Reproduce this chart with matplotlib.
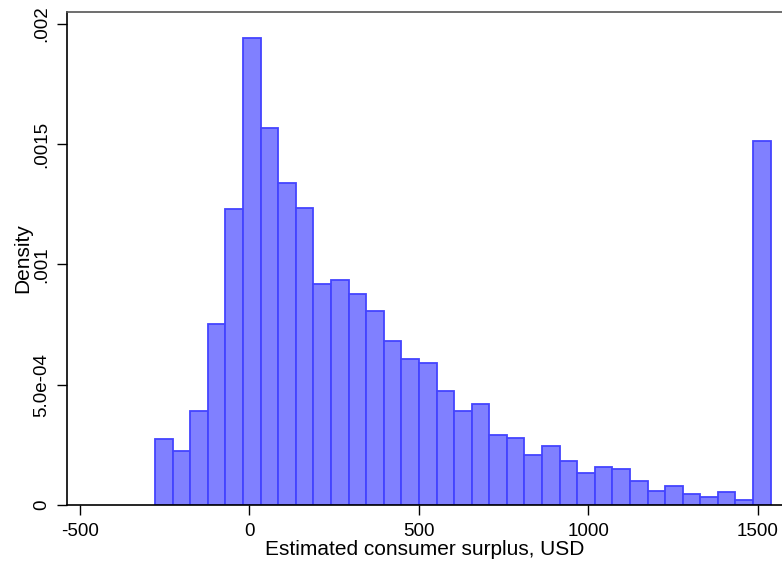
import numpy as np
import matplotlib.pyplot as plt

# histogram bins (USD) and bar densities
bin_start = -278.0
bin_width = 51.9
densities = [0.000274, 0.000225, 0.000391, 0.000754, 0.001231,
             0.001943, 0.001566, 0.001337, 0.001234, 0.000920,
             0.000936, 0.000878, 0.000808, 0.000682, 0.000607,
             0.000592, 0.000472, 0.000389, 0.000422, 0.000292,
             0.000277, 0.000209, 0.000244, 0.000181, 0.000131,
             0.000160, 0.000148, 0.000101, 0.000059, 0.000078,
             0.000044, 0.000032, 0.000053, 0.000019, 0.001512]

x_ticks = [-500, 0, 500, 1000, 1500]
y_ticks = [0, 0.0005, 0.001, 0.0015, 0.002]
y_tick_labels = ['0', '5.0e-04', '.001', '.0015', '.002']

plt.rcParams['font.family'] = ['Liberation Sans', 'DejaVu Sans']


def main():
    edges = bin_start + bin_width * np.arange(len(densities) + 1)

    fig = plt.figure(figsize=(7.82, 5.65), dpi=100)
    ax = fig.add_axes([0.0857, 0.1062, 0.9143, 0.8726])

    ax.bar(edges[:-1], densities, width=bin_width, align='edge',
           color='#8080ff', edgecolor='#4444ff', linewidth=1.3)

    ax.set_xlim(-538, 1572)
    ax.set_ylim(0, 0.00205)

    ax.set_xticks(x_ticks)
    ax.set_xticklabels([str(t) for t in x_ticks])
    ax.set_yticks(y_ticks)
    ax.set_yticklabels(y_tick_labels, rotation=90, va='center')

    ax.tick_params(direction='out', length=7, width=1, labelsize=13.5,
                   color='black')
    ax.tick_params(axis='x', pad=6)
    ax.tick_params(axis='y', pad=5)

    ax.set_xlabel('Estimated consumer surplus, USD', fontsize=15, labelpad=0)
    ax.set_ylabel('Density', fontsize=15, labelpad=1)

    for side in ['left', 'bottom']:
        ax.spines[side].set_color('black')
        ax.spines[side].set_linewidth(1.2)
    ax.spines['top'].set_color('#555555')
    ax.spines['top'].set_linewidth(1.2)
    ax.spines['right'].set_visible(False)

    fig.savefig('out.png', dpi=100)


if __name__ == '__main__':
    main()
